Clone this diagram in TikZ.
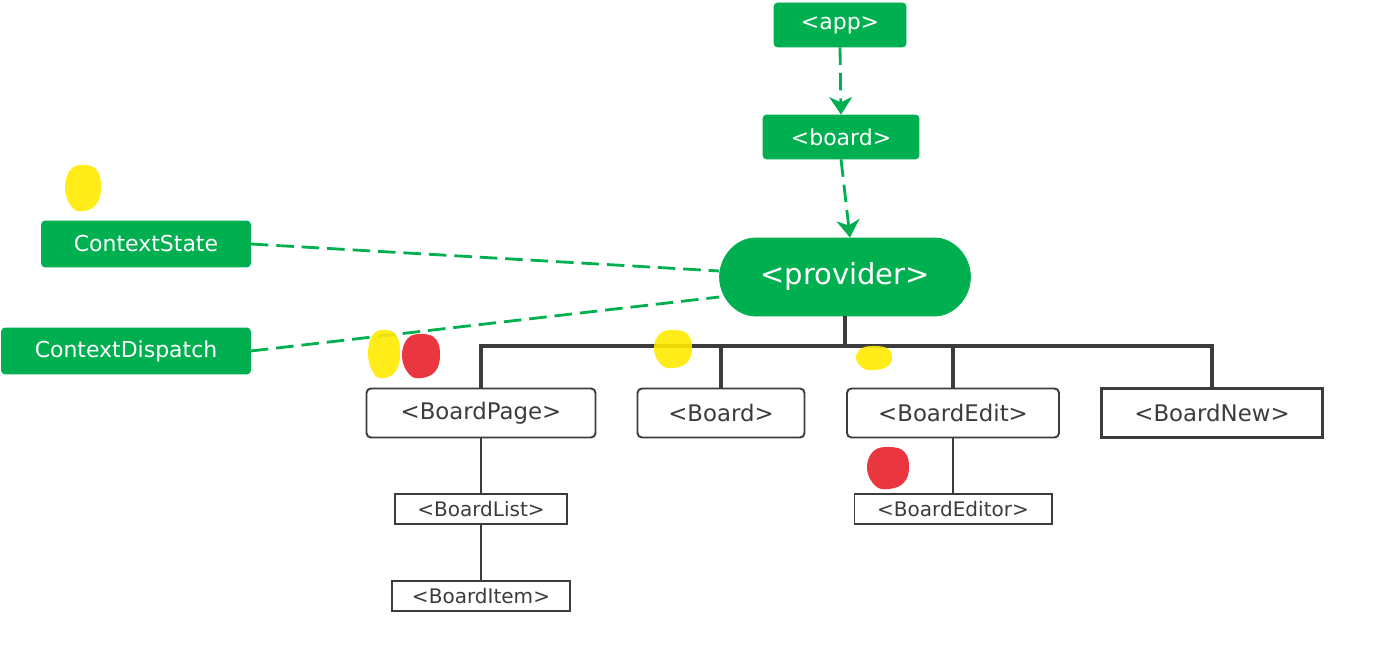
\documentclass[tikz,border=0pt]{standalone}
\usepackage{fontspec}
\setmainfont{DejaVu Sans}
\usetikzlibrary{shapes.misc,arrows.meta}

\definecolor{leaf}{HTML}{00AF50}
\definecolor{ink}{HTML}{3C3C3C}
\definecolor{marker}{HTML}{FFEA00}
\definecolor{redmark}{HTML}{E8202A}

% a hand scribbled mark: centre x, centre y, x radius, y radius (all in px), colour
\newcommand{\scribble}[5]{%
  \fill[#5, opacity=0.9] plot[smooth cycle, tension=0.7] coordinates {
    (#1+#3, #2) (#1+0.8*#3, #2-0.75*#4) (#1+0.1*#3, #2-#4) (#1-0.7*#3, #2-0.8*#4)
    (#1-#3, #2+0.05*#4) (#1-0.6*#3, #2+0.85*#4) (#1+0.05*#3, #2+#4) (#1+0.75*#3, #2+0.7*#4)};}

\begin{document}
\begin{tikzpicture}[x=0.02cm, y=-0.02cm,
    greenbox/.style={draw=leaf, fill=leaf, rounded corners=2pt, text=white, font=\fontsize{12.5}{15}\selectfont, inner sep=0pt},
    compbox/.style={draw=ink, line width=1.1pt, fill=white, rounded corners=2.5pt, text=ink, font=\fontsize{13}{15}\selectfont, inner sep=0pt, minimum height=0.98cm},
    smallbox/.style={draw=ink, line width=0.6pt, fill=white, text=ink, font=\fontsize{11.4}{13}\selectfont, inner sep=0pt, minimum height=0.6cm},
    flow/.style={leaf, line width=1.6pt, dash pattern=on 10pt off 4.5pt},
    tip/.style={-{Stealth[width=13pt,length=10pt,inset=3pt]}},
    tree/.style={ink, line width=2.2pt},
    twig/.style={ink, line width=0.6pt}]
  \useasboundingbox (0,0) rectangle (1382,658);

  % Top of the tree
  \node[greenbox, minimum width=2.64cm, minimum height=0.88cm] (app) at (840,25) {<app>};
  \node[greenbox, minimum width=3.12cm, minimum height=0.88cm] (board) at (841,137) {<board>};
  \node[greenbox, rounded rectangle, minimum width=5.02cm, minimum height=1.56cm,
        font=\fontsize{16.5}{19}\selectfont] (provider) at (845,277) {<provider>};

  % Context
  \node[greenbox, minimum width=4.18cm, minimum height=0.92cm] (state) at (146,244) {ContextState};
  \node[greenbox, minimum width=4.98cm, minimum height=0.92cm] (dispatch) at (126,351) {ContextDispatch};

  % Components
  \node[compbox, minimum width=4.58cm] (page) at (481,413) {<BoardPage>};
  \node[compbox, minimum width=3.34cm] (single) at (721,413) {<Board>};
  \node[compbox, minimum width=4.24cm] (edit) at (953,413) {<BoardEdit>};
  \node[compbox, minimum width=4.42cm, rounded corners=0pt, line width=1.7pt] (new) at (1212,413) {<BoardNew>};
  \node[smallbox, minimum width=3.44cm] (list) at (481,509) {<BoardList>};
  \node[smallbox, minimum width=3.56cm] (item) at (481,596) {<BoardItem>};
  \node[smallbox, minimum width=3.96cm] (editor) at (953,509) {<BoardEditor>};

  % Dashed links
  \draw[flow, tip] (app.south) -- (board.north);
  \draw[flow, tip] (board.south) -- ([xshift=0.1cm]provider.north);
  \draw[flow] (state.east) -- ([yshift=0.12cm]provider.west);
  \draw[flow] (dispatch.east) -- ([yshift=-0.4cm]provider.west);

  % The tree
  \coordinate (bus) at (845,346);
  \draw[tree] (provider.south) -- (bus);
  \draw[tree] (page.north) -- (page.north |- bus) -- (new.north |- bus) -- (new.north);
  \draw[tree] (single.north) -- (single.north |- bus);
  \draw[tree] (edit.north) -- (edit.north |- bus);
  \draw[twig] (page.south) -- (list.north);
  \draw[twig] (list.south) -- (item.north);
  \draw[twig] (edit.south) -- (editor.north);

  % Marks
  \scribble{83}{188}{18}{23}{marker}
  \scribble{384}{354}{16}{24}{marker}
  \scribble{421}{356}{19}{22}{redmark}
  \scribble{673}{349}{19}{19}{marker}
  \scribble{874}{358}{18}{12}{marker}
  \scribble{888}{468}{21}{21}{redmark}
\end{tikzpicture}
\end{document}
